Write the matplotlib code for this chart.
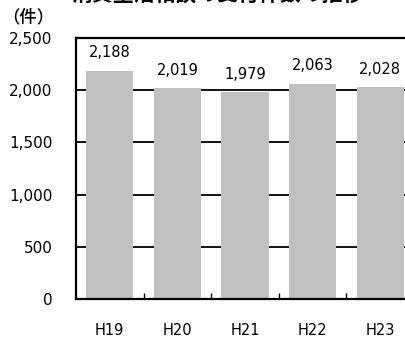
import matplotlib
matplotlib.use("Agg")
import matplotlib.pyplot as plt

plt.rcParams['font.family'] = ['DejaVu Sans', 'Noto Sans CJK JP']

# ── Data ──────────────────────────────────────────────────────────────────────
years  = ["H19", "H20", "H21", "H22", "H23"]
counts = [2188, 2019, 1979, 2063, 2028]
yticks = [0, 500, 1000, 1500, 2000, 2500]

BAR_C = "#c0c0c0"
CJK = ['Noto Sans CJK JP', 'DejaVu Sans']

# ── Figure ────────────────────────────────────────────────────────────────────
fig = plt.figure(figsize=(4.06, 3.38), dpi=100, facecolor="white")
ax = fig.add_axes([76 / 406, 39 / 338, 338 / 406, 261 / 338])

x = range(len(years))
ax.bar(x, counts, width=0.7, color=BAR_C, zorder=2)
ax.set_xlim(-0.5, len(years) - 0.5)
ax.set_ylim(0, 2500)

# horizontal gridlines (behind bars)
for v in yticks[1:-1]:
    ax.axhline(v, color="black", lw=1.3, zorder=1)

# value labels
for i, v in enumerate(counts):
    ax.text(i, v + 100, f"{v:,}", ha="center", va="bottom", fontsize=10.5)

# axes styling
for s in ["left", "top", "bottom"]:
    ax.spines[s].set_linewidth(1.6)
ax.spines["right"].set_visible(False)

ax.set_yticks(yticks)
ax.set_yticklabels([f"{v:,}" for v in yticks], fontsize=11)
ax.tick_params(axis="y", length=0, pad=17)

ax.set_xticks([i + 0.5 for i in range(len(years) - 1)], minor=True)
ax.set_xticks(list(x))
ax.set_xticklabels(years, fontsize=10.5)
ax.tick_params(axis="x", which="major", length=0, pad=17)
ax.tick_params(axis="x", which="minor", direction="in", length=4, width=1)

fig.text(2 / 406, 1 - 17 / 338, "（件）", fontsize=12.5, va="center", ha="left",
         family=CJK, fontweight="medium")
fig.text(218 / 406, 1 + 6 / 338, "消費生活相談の受付件数の推移",
         fontsize=15, fontweight="bold", ha="center", va="center", family=CJK)

fig.savefig("out.png", dpi=100, facecolor="white")
